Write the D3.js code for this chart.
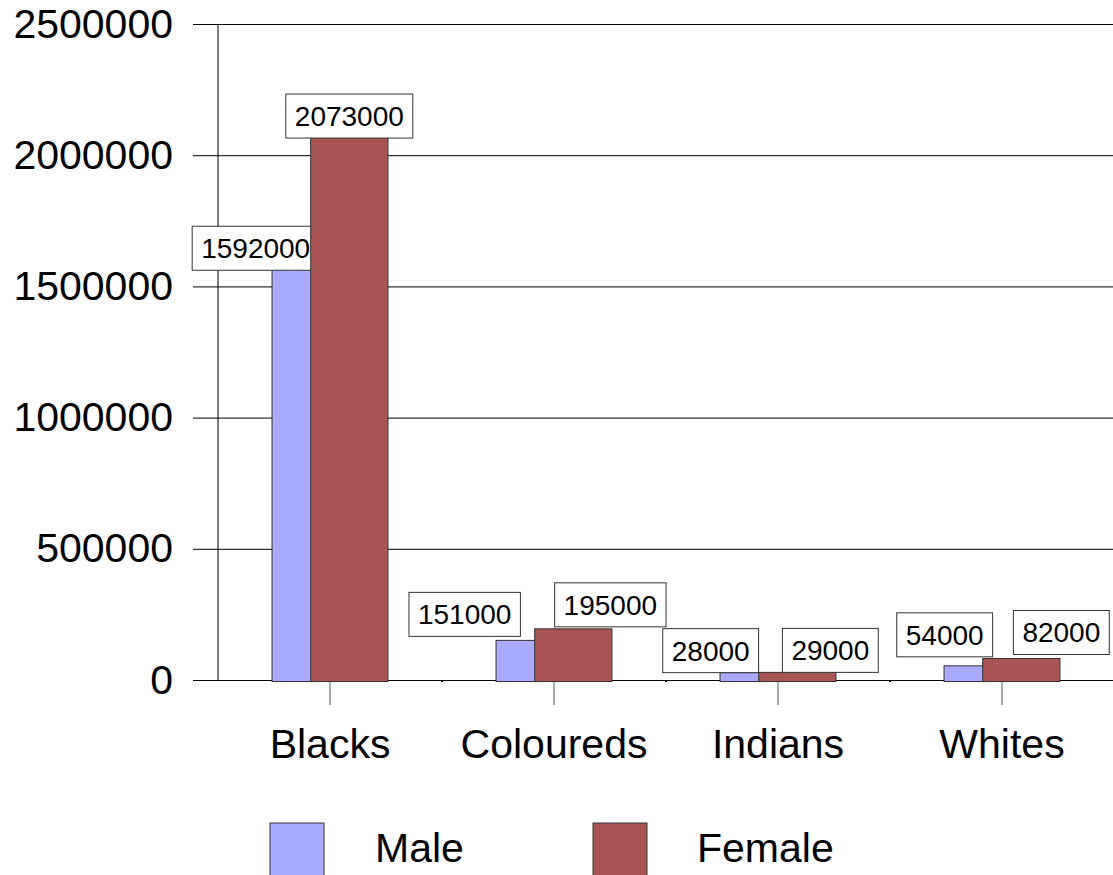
<!DOCTYPE html>
<html>
<head>
<meta charset="utf-8">
<script src="https://cdn.jsdelivr.net/npm/d3@7/dist/d3.min.js"></script>
<style>
  html, body { margin: 0; padding: 0; background: #fff; }
  svg { display: block; font-family: "Liberation Sans", Arial, sans-serif; }
</style>
</head>
<body>
<svg id="chart" width="1113" height="875"></svg>
<script>
// Population by group and sex
const categories = ["Blacks", "Coloureds", "Indians", "Whites"];
const maleValues = [1592000, 151000, 28000, 54000];
const femaleValues = [2073000, 195000, 29000, 82000];
const seriesNames = ["Male", "Female"];
const yTicks = [0, 500000, 1000000, 1500000, 2000000, 2500000];

// Hand-placed data label offsets (dx, dy in px) relative to each bar's top centre
const maleLabelShift = [[-55, 8], [-70, -4], [-48, 0], [-38, -9]];
const femaleLabelShift = [[0, 2], [37, -2], [33, 0], [40, -4]];

const colors = { Male: "#AAAAFF", Female: "#AA5555" };

const svg = d3.select("#chart");
const plotLeft = 218, plotRight = 1114, plotTop = 24, plotBottom = 680;
const gridLeft = 193;

const x = d3.scaleBand().domain(categories).range([plotLeft, plotRight]).padding(0);
const y = d3.scaleLinear().domain([0, 2500000]).range([plotBottom, plotTop]);

// Gridlines + value labels
const yAxis = d3.axisLeft(y)
  .tickValues(yTicks)
  .tickSize(1113 - gridLeft)
  .tickPadding(20)
  .tickFormat(d3.format("d"));
const gy = svg.append("g").attr("transform", "translate(1113,0)").call(yAxis);
gy.select(".domain").remove();
gy.selectAll(".tick line").attr("stroke", "#000").attr("stroke-width", 1);
gy.selectAll(".tick text").attr("font-size", 41).attr("fill", "#000")
  .attr("font-family", "Liberation Sans, Arial, sans-serif");

// Vertical value axis
svg.append("line")
  .attr("x1", plotLeft).attr("x2", plotLeft)
  .attr("y1", y(2500000)).attr("y2", y(0))
  .attr("stroke", "#000").attr("stroke-width", 1);

// Category axis
const xAxis = d3.axisBottom(x).tickSize(25).tickPadding(24);
const gx = svg.append("g").attr("transform", `translate(0,${plotBottom})`).call(xAxis);
gx.select(".domain").remove();
gx.selectAll(".tick line").attr("stroke", "#555");
gx.selectAll(".tick text").attr("font-size", 41).attr("fill", "#000")
  .attr("font-family", "Liberation Sans, Arial, sans-serif");

// small marks on category boundaries
svg.append("g").selectAll("rect")
  .data(categories.slice(1))
  .join("rect")
  .attr("x", d => x(d) - 1).attr("y", plotBottom).attr("width", 2).attr("height", 2)
  .attr("fill", "#000");

const barW = x.bandwidth() * 0.345;
const groupW = barW * 1.5;
const maleX = c => x(c) + x.bandwidth() / 2 - groupW / 2;
const femaleX = c => maleX(c) + barW / 2;

const maleData = categories.map((c, i) => ({ c, v: maleValues[i], s: maleLabelShift[i], x: maleX(c) }));
const femaleData = categories.map((c, i) => ({ c, v: femaleValues[i], s: femaleLabelShift[i], x: femaleX(c) }));

function drawBars(data, color) {
  svg.append("g").selectAll("rect")
    .data(data)
    .join("rect")
    .attr("x", d => d.x)
    .attr("y", d => y(d.v))
    .attr("width", barW)
    .attr("height", d => y(0) - y(d.v) + 1.5)
    .attr("fill", color)
    .attr("stroke", "#333")
    .attr("stroke-width", 1);
}

function drawLabels(data) {
  const fs = 28;
  const g = svg.append("g").selectAll("g")
    .data(data)
    .join("g")
    .attr("transform", d => `translate(${d.x + barW / 2 + d.s[0]},${y(d.v) + d.s[1]})`);
  const texts = g.append("text")
    .attr("text-anchor", "middle")
    .attr("font-size", fs)
    .attr("y", -12)
    .attr("fill", "#000")
    .text(d => d3.format("d")(d.v));
  texts.each(function () {
    const w = this.getComputedTextLength() + 18;
    d3.select(this.parentNode).insert("rect", "text")
      .attr("x", -w / 2).attr("y", -44)
      .attr("width", w).attr("height", 44)
      .attr("fill", "#fff")
      .attr("stroke", "#333")
      .attr("stroke-width", 1);
  });
}

drawBars(maleData, colors.Male);
drawLabels(maleData);
drawBars(femaleData, colors.Female);
drawLabels(femaleData);

// Legend
const legendPos = [{ sx: 270, tx: 375 }, { sx: 593, tx: 697 }];
const lg = svg.append("g").selectAll("g")
  .data(seriesNames)
  .join("g");
lg.append("rect")
  .attr("x", (d, i) => legendPos[i].sx).attr("y", 823)
  .attr("width", 54).attr("height", 56)
  .attr("fill", d => colors[d]).attr("stroke", "#333").attr("stroke-width", 1);
lg.append("text")
  .attr("x", (d, i) => legendPos[i].tx).attr("y", 862)
  .attr("font-size", 41).attr("fill", "#000")
  .text(d => d);
</script>
</body>
</html>
